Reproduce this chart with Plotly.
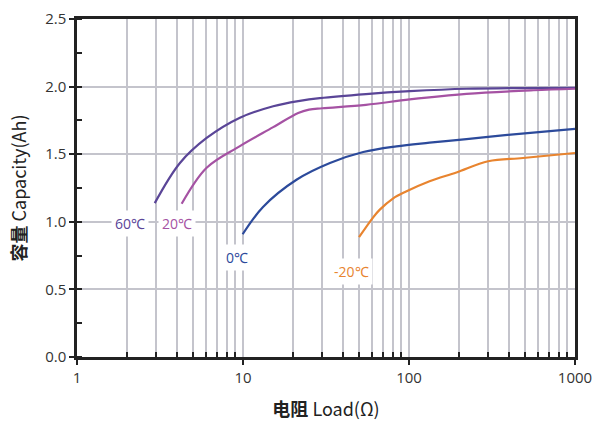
import math
import plotly.graph_objects as go

# Data
load_60 = [2.94, 4.17, 6.04, 9.58, 15.2, 22, 29, 55, 101, 222, 1000]
cap_60 = [1.138, 1.435, 1.62, 1.77, 1.855, 1.895, 1.915, 1.945, 1.966, 1.984, 1.991]

load_20 = [4.27, 6.04, 9.58, 15.2, 21.5, 25, 30, 55, 101, 222, 561, 1000]
cap_20 = [1.133, 1.40, 1.56, 1.70, 1.805, 1.83, 1.84, 1.865, 1.905, 1.946, 1.973, 1.984]

load_0 = [9.95, 13.2, 21, 33.4, 53, 84, 133, 222, 354, 1000]
cap_0 = [0.908, 1.11, 1.311, 1.435, 1.516, 1.558, 1.585, 1.612, 1.638, 1.687]

load_m20 = [50.0, 61, 66.7, 80, 96, 133, 193, 300, 486, 1000]
cap_m20 = [0.886, 1.035, 1.09, 1.172, 1.224, 1.30, 1.365, 1.448, 1.472, 1.509]

series_names = ["60℃", "20℃", "0℃", "-20℃"]
colors = ["#5a4597", "#a552a3", "#2c4a9b", "#e8842f"]
label_x = [2.09, 3.98, 9.25, 45.1]
label_y = [0.985, 0.985, 0.737, 0.636]

x_major = [1, 10, 100, 1000]
x_major_text = ["1", "10", "100", "1000"]
x_minor = [m * d for d in (1, 10, 100) for m in range(2, 10)]
y_major = [0.0, 0.5, 1.0, 1.5, 2.0, 2.5]

fig = go.Figure()
for xs, ys, name, c in zip([load_60, load_20, load_0, load_m20],
                           [cap_60, cap_20, cap_0, cap_m20],
                           series_names, colors):
    fig.add_trace(go.Scatter(x=xs, y=ys, mode="lines", name=name,
                             line=dict(color=c, width=2.2, shape="spline", smoothing=1.0),
                             showlegend=False))

for name, c, lx, ly in zip(series_names, colors, label_x, label_y):
    fig.add_annotation(x=math.log10(lx), y=ly, xref="x", yref="y", text=name, showarrow=False,
                       xanchor="center", yanchor="middle",
                       font=dict(family="Open Sans", size=14, color=c),
                       bgcolor="white", borderpad=3)

fig.update_layout(
    width=602, height=421,
    margin=dict(l=77, r=27, t=19, b=64, autoexpand=False),
    paper_bgcolor="white", plot_bgcolor="white",
    font=dict(family="Open Sans", color="#333333"),
)
fig.update_xaxes(
    type="log", range=[0, 3], automargin=False,
    tickmode="array", tickvals=x_major, ticktext=x_major_text,
    ticks="outside", ticklen=5, tickwidth=2, tickcolor="#222222",
    showline=True, linecolor="#222222", linewidth=2.5, mirror=True,
    showgrid=True, gridcolor="#c4c4cc", gridwidth=1.5,
    minor=dict(tickmode="array", tickvals=x_minor, ticks="inside", ticklen=5,
               tickwidth=1.5, tickcolor="#222222", showgrid=True,
               gridcolor="#c4c4cc", gridwidth=1.5),
    tickfont=dict(family="Open Sans", size=15, color="#333333"),
    title=dict(text="<b>电阻</b> Load(Ω)", font=dict(family="Noto Sans CJK SC", size=18, color="#222222"),
               standoff=20),
    zeroline=False,
)
fig.update_yaxes(
    range=[0, 2.5], automargin=False,
    tickmode="array", tickvals=y_major, tickformat=".1f",
    ticks="outside", ticklen=5, tickwidth=2, tickcolor="#222222",
    showline=True, linecolor="#222222", linewidth=2.5, mirror=True,
    showgrid=True, gridcolor="#c4c4cc", gridwidth=1.5,
    minor=dict(dtick=0.25, ticks="inside", ticklen=5, tickwidth=1.5,
               tickcolor="#222222", showgrid=False),
    tickfont=dict(family="Open Sans", size=15, color="#333333"),
    title=dict(text="<b>容量</b> Capacity(Ah)", font=dict(family="Noto Sans CJK SC", size=18, color="#222222"),
               standoff=14),
    zeroline=False,
)

fig.write_html("out.html", config={"displayModeBar": False},
               post_script="document.body.style.margin='0';")
